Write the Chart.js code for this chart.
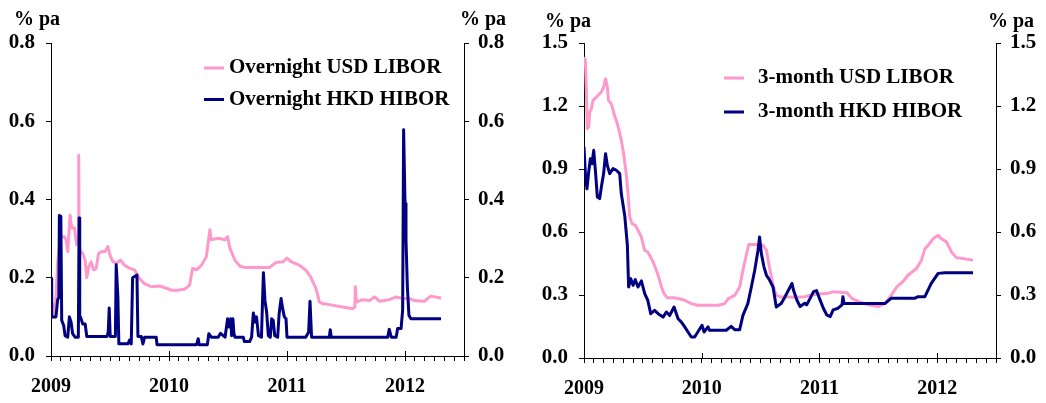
<!DOCTYPE html>
<html>
<head>
<meta charset="utf-8">
<script src="https://cdn.jsdelivr.net/npm/chart.js@4.4.0/dist/chart.umd.min.js"></script>
<style>
  body { margin: 0; background: #fff; width: 1046px; height: 403px; overflow: hidden; position: relative; }
  canvas { position: absolute; top: 0; }
  #chartON { left: 0; }
  #chart3M { left: 520px; }
</style>
</head>
<body>
<canvas id="chartON" width="520" height="403"></canvas>
<canvas id="chart3M" width="526" height="403"></canvas>
<script>
// x-arvot = kuukausia tammikuusta 2009 alkaen
const startYear = 2009;
const monthsShown = 42;
const unitLabel = '% pa';

// Overnight USD LIBOR
const onLiborMonths = [0, 0.17, 0.5, 0.68, 1.0, 1.36, 1.53, 1.7, 1.94, 2.1,
  2.38, 2.62, 2.78, 2.82, 2.86, 2.96, 3.23, 3.47, 3.64, 3.84,
  4.08, 4.32, 4.6, 4.83, 5.17, 5.5, 5.78, 6.0, 6.29, 6.63,
  7.07, 7.48, 7.99, 8.5, 9.0, 9.5, 10.2, 11.05, 11.9, 12.24,
  12.9, 13.6, 14.1, 14.4, 14.8, 15.3, 15.8, 16.16, 16.3, 17.0,
  17.7, 17.96, 18.2, 18.7, 19.2, 19.7, 20.7, 22.2, 22.9, 23.6,
  24.0, 24.4, 25.25, 25.9, 26.4, 26.95, 27.3, 27.6, 28.6, 29.66,
  30.68, 30.9, 30.95, 31.05, 31.7, 32.4, 32.9, 33.4, 34.4, 35.1,
  35.8, 36.4, 37.1, 37.96, 38.6, 39.66];
const onLiborValues = [0.11, 0.10, 0.15, 0.24, 0.305, 0.305, 0.297, 0.267, 0.36, 0.327,
  0.327, 0.284, 0.29, 0.513, 0.29, 0.27, 0.262, 0.245, 0.2, 0.228,
  0.241, 0.22, 0.224, 0.262, 0.267, 0.267, 0.28, 0.258, 0.241, 0.237,
  0.245, 0.232, 0.224, 0.22, 0.198, 0.185, 0.177, 0.179, 0.172, 0.168,
  0.168, 0.171, 0.181, 0.224, 0.22, 0.232, 0.254, 0.323, 0.297, 0.301,
  0.297, 0.305, 0.275, 0.245, 0.23, 0.226, 0.226, 0.226, 0.239, 0.241,
  0.25, 0.241, 0.232, 0.22, 0.202, 0.172, 0.138, 0.134, 0.13, 0.125,
  0.121, 0.125, 0.177, 0.138, 0.144, 0.142, 0.151, 0.14, 0.144, 0.151,
  0.147, 0.147, 0.141, 0.14, 0.153, 0.148];

// Overnight HKD HIBOR
const onHiborMonths = [0, 0.07, 0.5, 0.68, 0.8, 0.85, 1.0, 1.09, 1.29, 1.43,
  1.7, 1.87, 2.04, 2.2, 2.45, 2.78, 2.86, 2.92, 3.0, 3.23,
  3.47, 3.64, 5.7, 5.82, 5.92, 6.02, 6.55, 6.63, 6.67, 6.8,
  6.9, 7.82, 8.0, 8.16, 8.3, 8.74, 8.84, 9.18, 9.35, 9.52,
  10.7, 10.78, 14.8, 14.97, 15.07, 15.9, 16.05, 16.3, 17.0, 17.24,
  17.7, 17.96, 18.1, 18.27, 18.37, 18.5, 18.6, 18.7, 19.56, 19.66,
  20.2, 20.4, 20.58, 20.75, 20.9, 21.1, 21.4, 21.6, 21.76, 21.93,
  22.1, 22.3, 22.44, 22.6, 22.75, 23.05, 23.2, 23.4, 23.56, 23.73,
  23.9, 24.0, 25.9, 26.2, 26.34, 26.5, 28.3, 28.4, 28.5, 34.24,
  34.4, 34.6, 35.1, 35.25, 35.6, 35.76, 35.86, 36.0, 36.1, 36.24,
  36.4, 36.6, 39.66];
const onHiborValues = [0.198, 0.1, 0.1, 0.144, 0.15, 0.359, 0.357, 0.091, 0.078, 0.052,
  0.048, 0.1, 0.087, 0.057, 0.048, 0.048, 0.353, 0.1, 0.1, 0.082,
  0.082, 0.05, 0.05, 0.061, 0.123, 0.05, 0.05, 0.233, 0.233, 0.151,
  0.031, 0.031, 0.041, 0.031, 0.2, 0.207, 0.05, 0.05, 0.031, 0.048,
  0.048, 0.029, 0.029, 0.044, 0.029, 0.029, 0.057, 0.048, 0.048, 0.058,
  0.048, 0.095, 0.074, 0.095, 0.052, 0.095, 0.058, 0.048, 0.048, 0.037,
  0.037, 0.048, 0.11, 0.087, 0.1, 0.052, 0.048, 0.213, 0.142, 0.112,
  0.052, 0.048, 0.095, 0.091, 0.052, 0.048, 0.108, 0.147, 0.121, 0.1,
  0.095, 0.048, 0.048, 0.061, 0.14, 0.048, 0.048, 0.067, 0.048, 0.048,
  0.068, 0.048, 0.048, 0.07, 0.07, 0.117, 0.578, 0.39, 0.297, 0.177,
  0.104, 0.095, 0.095];

// 3-month USD LIBOR
const m3LiborMonths = [0, 0.14, 0.24, 0.34, 0.48, 0.58, 0.75, 0.92, 1.09, 1.43,
  1.77, 2.0, 2.2, 2.38, 2.5, 2.79, 3.06, 3.3, 3.53, 3.8,
  4.04, 4.3, 4.49, 4.66, 4.9, 5.23, 5.5, 5.85, 6.19, 6.5,
  6.8, 7.04, 7.38, 7.61, 7.9, 8.16, 8.5, 9.08, 9.59, 10.27,
  10.94, 11.6, 12.64, 13.66, 14.34, 14.7, 15.36, 15.87, 16.2, 16.5,
  16.8, 17.4, 18.25, 18.6, 18.9, 19.27, 19.6, 20.1, 20.5, 21.5,
  22.5, 23.2, 23.9, 24.9, 25.4, 26.8, 27.3, 28.0, 29.0, 30.0,
  30.7, 31.35, 31.9, 32.5, 33.05, 33.9, 34.4, 34.75, 35.1, 35.6,
  36.1, 36.4, 36.95, 37.46, 37.97, 38.6, 39.66];
const m3LiborValues = [1.433, 1.417, 1.275, 1.092, 1.1, 1.171, 1.187, 1.227, 1.235, 1.25,
  1.267, 1.29, 1.33, 1.29, 1.227, 1.21, 1.163, 1.13, 1.092, 1.037,
  0.973, 0.878, 0.783, 0.671, 0.64, 0.632, 0.608, 0.576, 0.513, 0.505,
  0.48, 0.457, 0.417, 0.386, 0.338, 0.306, 0.287, 0.287, 0.283, 0.275,
  0.259, 0.251, 0.251, 0.251, 0.259, 0.283, 0.298, 0.338, 0.417, 0.48,
  0.541, 0.541, 0.537, 0.513, 0.433, 0.346, 0.298, 0.29, 0.292, 0.289,
  0.292, 0.3, 0.305, 0.308, 0.316, 0.311, 0.284, 0.268, 0.253, 0.245,
  0.26, 0.3, 0.34, 0.363, 0.395, 0.426, 0.466, 0.521, 0.537, 0.569,
  0.584, 0.569, 0.553, 0.505, 0.478, 0.474, 0.466];

// 3-month HKD HIBOR
const m3HiborMonths = [0, 0.14, 0.3, 0.48, 0.65, 0.82, 0.99, 1.16, 1.36, 1.6,
  1.77, 2.0, 2.2, 2.38, 2.62, 2.96, 3.3, 3.64, 3.8, 4.15,
  4.42, 4.55, 4.76, 5.0, 5.23, 5.5, 5.85, 6.19, 6.5, 6.8,
  7.2, 7.55, 8.06, 8.4, 8.74, 9.18, 9.59, 9.93, 10.27, 10.6,
  10.94, 11.28, 11.6, 12.03, 12.24, 12.64, 12.8, 13.66, 14.5, 15.0,
  15.36, 15.87, 16.2, 16.7, 17.06, 17.4, 17.74, 17.9, 18.08, 18.35,
  18.6, 18.93, 19.27, 19.6, 20.1, 20.5, 20.85, 21.2, 21.35, 21.7,
  22.03, 22.5, 22.7, 23.05, 23.4, 23.7, 24.0, 24.4, 24.75, 25.1,
  25.4, 25.9, 26.3, 26.4, 26.5, 30.7, 31.3, 33.7, 34.05, 34.75,
  35.4, 36.1, 36.8, 39.66];
const m3HiborValues = [1.005, 0.878, 0.806, 0.886, 0.949, 0.925, 0.989, 0.894, 0.767, 0.759,
  0.814, 0.878, 0.973, 0.917, 0.878, 0.902, 0.894, 0.878, 0.783, 0.679,
  0.537, 0.338, 0.378, 0.346, 0.373, 0.338, 0.367, 0.306, 0.275, 0.211,
  0.227, 0.211, 0.195, 0.219, 0.203, 0.243, 0.187, 0.171, 0.148, 0.124,
  0.1, 0.1, 0.124, 0.156, 0.124, 0.148, 0.132, 0.132, 0.132, 0.151,
  0.135, 0.135, 0.203, 0.259, 0.338, 0.417, 0.513, 0.576, 0.497, 0.433,
  0.394, 0.37, 0.338, 0.243, 0.259, 0.292, 0.324, 0.355, 0.324, 0.276,
  0.245, 0.261, 0.253, 0.284, 0.316, 0.321, 0.284, 0.237, 0.205, 0.197,
  0.229, 0.237, 0.253, 0.292, 0.26, 0.26, 0.284, 0.284, 0.292, 0.292,
  0.355, 0.403, 0.406, 0.406];

const pinkColor = '#ff99cc';
const navyColor = '#000080';
const fontFamily = '"Liberation Serif", "Times New Roman", serif';

function pisteet(kk, arvot) {
  return kk.map((m, i) => ({ x: m, y: arvot[i] }));
}

// legenda, "% pa" -otsikot ja vuosien pitkät tikit
const koristeet = {
  id: 'koristeet',
  afterDraw(chart, args, o) {
    const { ctx, chartArea } = chart;
    const sx = chart.scales.x, y1 = chart.scales.y, y2 = chart.scales.y2;
    ctx.save();
    ctx.fillStyle = '#000';
    ctx.textBaseline = 'middle';

    ctx.font = 'bold 21px ' + fontFamily;
    chart.data.datasets.forEach((ds, i) => {
      const ly = chartArea.top + o.legendTop + i * o.legendGap;
      const lx = chartArea.left + o.legendLeft;
      ctx.strokeStyle = ds.borderColor;
      ctx.lineWidth = 3;
      ctx.beginPath();
      ctx.moveTo(lx, ly);
      ctx.lineTo(lx + 20, ly);
      ctx.stroke();
      ctx.fillText(ds.label, lx + o.textGap, ly);
    });

    ctx.font = 'bold 20px ' + fontFamily;
    ctx.textAlign = 'right';
    ctx.fillText(unitLabel, y1.right + o.unitLeft, o.unitY);
    ctx.textAlign = 'left';
    ctx.fillText(unitLabel, y2.left + o.unitRight, o.unitY);

    ctx.strokeStyle = '#000';
    ctx.lineWidth = 1;
    sx.ticks.forEach(t => {
      if (t.value % 12 !== 0) return;
      const px = Math.round(sx.getPixelForValue(t.value)) + 0.5;
      ctx.beginPath();
      ctx.moveTo(px, sx.top - 5);
      ctx.lineTo(px, sx.top);
      ctx.stroke();
    });
    ctx.restore();
  }
};

function teeKaavio(id, sarjat, yMax, yStep, asetukset) {
  const yAxis = (pos, w, pad) => ({
    type: 'linear',
    position: pos,
    min: 0,
    max: yMax,
    afterFit: s => { s.width = w; },
    ticks: {
      stepSize: yStep,
      color: '#000',
      padding: pad,
      font: { family: fontFamily, size: 21, weight: 'bold' },
      callback: v => Number(v).toFixed(1)
    },
    grid: { drawOnChartArea: false, drawTicks: true, tickLength: 5, color: '#000' },
    border: { display: true, color: '#000', width: 1 }
  });

  return new Chart(document.getElementById(id), {
    type: 'line',
    data: {
      datasets: sarjat.map(s => ({
        label: s.label,
        data: s.data,
        borderColor: s.color,
        backgroundColor: s.color,
        borderWidth: 3,
        borderJoinStyle: 'round',
        pointRadius: 0,
        tension: 0,
        fill: false,
        order: s.order,
        yAxisID: 'y'
      }))
    },
    options: {
      responsive: false,
      animation: false,
      devicePixelRatio: 1,
      layout: { padding: { top: 43, left: 0, right: 0, bottom: 0 } },
      plugins: {
        legend: { display: false },
        tooltip: { enabled: false },
        koristeet: asetukset
      },
      scales: {
        x: {
          type: 'linear',
          min: 0,
          max: monthsShown,
          afterFit: s => { s.height = asetukset.xHeight; },
          ticks: {
            stepSize: 1,
            autoSkip: false,
            maxRotation: 0,
            color: '#000',
            padding: 14,
            font: { family: fontFamily, size: 20, weight: 'bold' },
            callback: v => (v % 12 === 0 ? String(startYear + v / 12) : '')
          },
          grid: { drawOnChartArea: false, drawTicks: true, tickLength: 5, color: '#000' },
          border: { display: true, color: '#000', width: 1 }
        },
        y: yAxis('left', asetukset.leftW, 11),
        y2: yAxis('right', asetukset.rightW, 9)
      }
    },
    plugins: [koristeet]
  });
}

teeKaavio('chartON', [
  { label: 'Overnight USD LIBOR', data: pisteet(onLiborMonths, onLiborValues), color: pinkColor, order: 1 },
  { label: 'Overnight HKD HIBOR', data: pisteet(onHiborMonths, onHiborValues), color: navyColor, order: 0 }
], 0.8, 0.2, {
  leftW: 51, rightW: 56, xHeight: 47,
  legendLeft: 153, legendTop: 25, legendGap: 31.5, textGap: 25,
  unitLeft: 9, unitRight: -4, unitY: 20
});

teeKaavio('chart3M', [
  { label: '3-month USD LIBOR', data: pisteet(m3LiborMonths, m3LiborValues), color: pinkColor, order: 1 },
  { label: '3-month HKD HIBOR', data: pisteet(m3HiborMonths, m3HiborValues), color: navyColor, order: 0 }
], 1.5, 0.3, {
  leftW: 64, rightW: 50, xHeight: 45,
  legendLeft: 140, legendTop: 35, legendGap: 34, textGap: 34,
  unitLeft: 7, unitRight: -8, unitY: 22
});
</script>
</body>
</html>
